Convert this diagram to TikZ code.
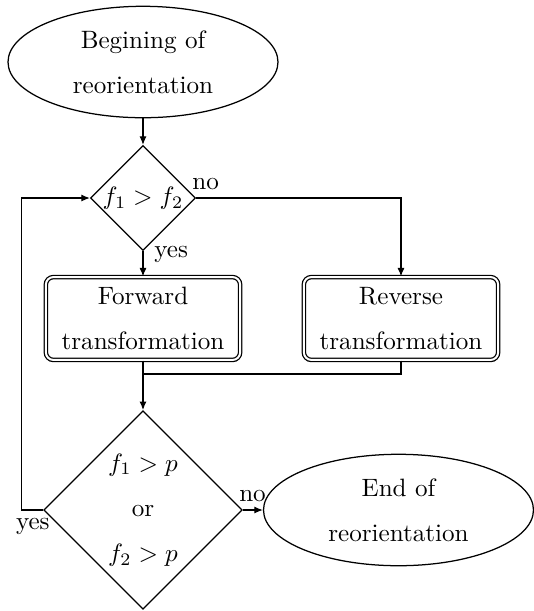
\documentclass[tikz,border=0pt]{standalone}
\usepackage{amsmath,amssymb}
\usepackage{tikz}
\usetikzlibrary{positioning, arrows.meta, shapes.geometric}

\begin{document}
\begin{tikzpicture}[
    line width=0.5pt,
    term/.style={ellipse, draw, inner sep=0pt, minimum width=3.78cm, minimum height=1.56cm, align=center},
    test/.style={diamond, draw, aspect=1, inner sep=0pt, align=center},
    proc/.style={rectangle, draw, double, double distance=0.8pt, rounded corners=3pt, minimum height=1.16cm, minimum width=2.72cm, inner sep=1pt, align=center},
    lbl/.style={inner sep=0pt, font=\normalsize},
    arr/.style={-{Latex[length=1.2mm, width=1mm]}},
]
\useasboundingbox (0, 0) rectangle (7.476, -8.554);

\node[term] (start) at (2.002, -0.868) {Begining of\\[6pt]reorientation};
\node[test, minimum size=1.47cm] (cmpf) at (2.002, -2.772) {$f_1 > f_2$};

\node[proc] (fwd) at (2.002, -4.459) {Forward\\[6pt]transformation};
\node[proc] (rev) at (5.614, -4.459) {Reverse\\[6pt]transformation};

\node[test, minimum size=2.78cm] (cmpp) at (2.002, -7.14) {$f_1 > p$\\[6pt]or\\[6pt]$f_2 > p$};
\node[term] (stop) at (5.579, -7.14) {End of\\[6pt]reorientation};

\coordinate (mj) at (2.002, -5.236);

\draw[arr] (start) -- (cmpf);
\draw[arr] (cmpf.south) node[lbl, anchor=west, xshift=1.5mm, yshift=-0.5mm] {yes} -- (fwd);
\draw[arr] (cmpf.east) node[lbl, anchor=south west, xshift=-0.6mm, yshift=1.1mm] {no} -| (rev.north);

\draw (rev.south) |- (mj);
\draw[arr] (fwd.south) -- (cmpp.north);

\draw[arr] (cmpp.east) node[lbl, anchor=south west, xshift=-0.6mm, yshift=1.1mm] {no} -- (stop.west);
\draw[arr] (cmpp.west) node[lbl, anchor=north east, xshift=1mm, yshift=-1.1mm] {yes} -- ++(-0.3, 0) |- (cmpf.west);

\end{tikzpicture}
\end{document}
